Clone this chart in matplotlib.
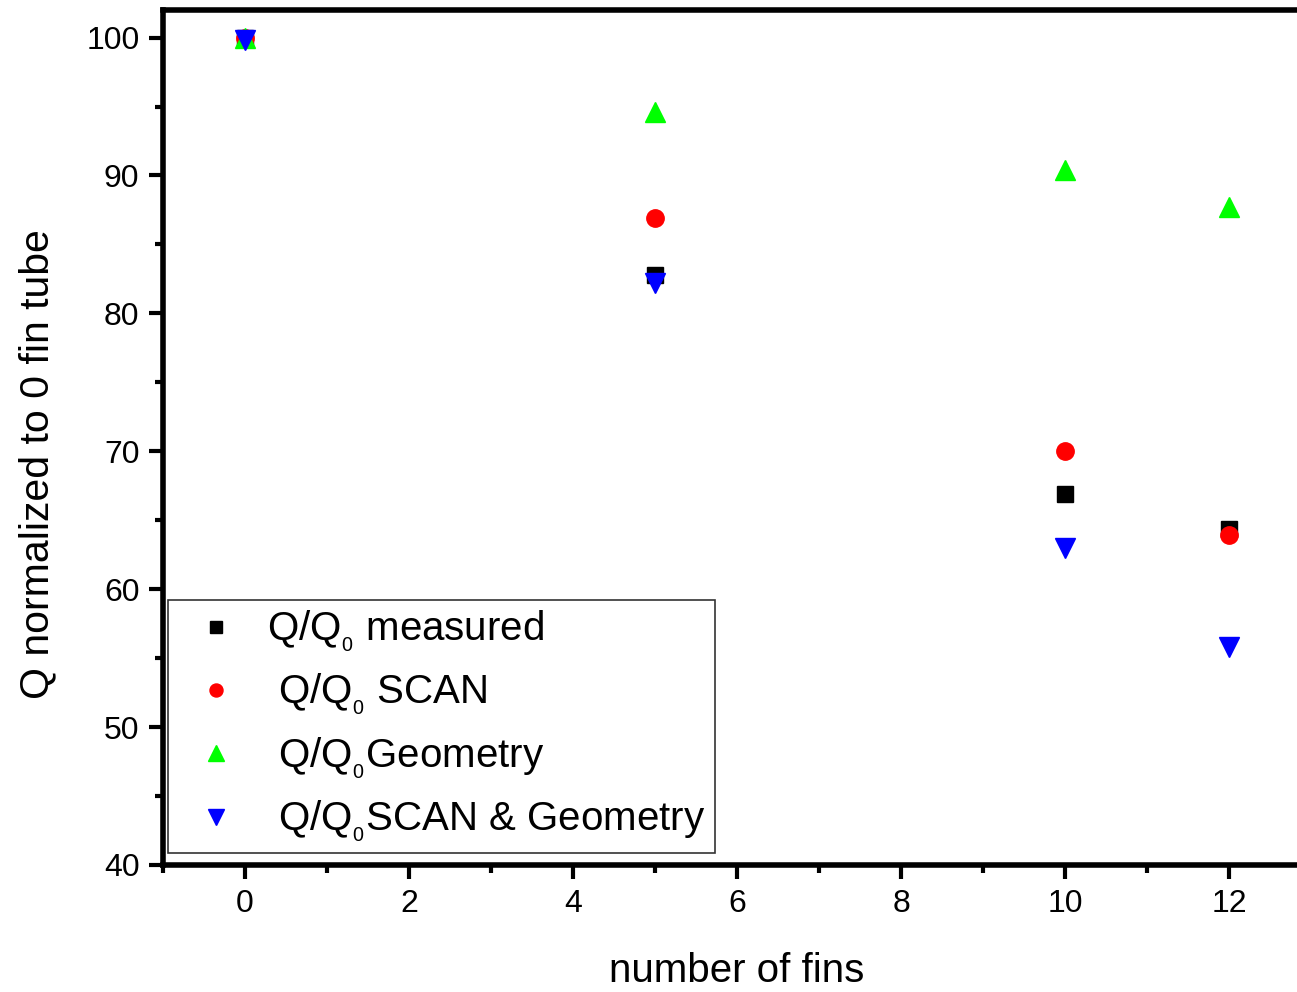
import matplotlib
matplotlib.use("Agg")
import matplotlib.pyplot as plt
from matplotlib.ticker import MultipleLocator

plt.rcParams["font.family"] = ["Liberation Sans", "DejaVu Sans"]
plt.rcParams["mathtext.fontset"] = "custom"
plt.rcParams["mathtext.rm"] = "Liberation Sans"
plt.rcParams["mathtext.it"] = "Liberation Sans"

# number of fins on the tube
fins = [0, 5, 10, 12]

# heat transfer normalized to the 0-fin tube (%)
q_measured = [100.0, 82.8, 66.9, 64.4]
q_scan = [100.0, 86.9, 70.0, 63.9]
q_geometry = [100.0, 94.6, 90.4, 87.7]
q_scan_geometry = [99.8, 82.2, 63.0, 55.8]

labels = [
    r"Q/Q$_{_0}$ measured",
    r" Q/Q$_{_0}$ SCAN",
    r" Q/Q$_{_0}$Geometry",
    r" Q/Q$_{_0}$SCAN & Geometry",
]

W, H, DPI = 1297, 992, 100
fig = plt.figure(figsize=(W / DPI, H / DPI), dpi=DPI)
# axes run past the right edge of the canvas
ax = fig.add_axes([163 / W, (H - 865) / H, (1311 - 163) / W, (865 - 10) / H])

ax.plot(fins, q_measured, ls="none", marker="s", ms=11.5, color="black",
        mec="black", label=labels[0], zorder=3)
ax.plot(fins, q_scan, ls="none", marker="o", ms=12.5, color="red",
        mec="red", label=labels[1], zorder=4)
ax.plot(fins, q_geometry, ls="none", marker="^", ms=15, color="#00ff00",
        mec="#00ff00", label=labels[2], zorder=5)
ax.plot(fins, q_scan_geometry, ls="none", marker="v", ms=15, color="blue",
        mec="blue", label=labels[3], zorder=6)

ax.set_xlim(-1, 13)
ax.set_ylim(40, 102)
ax.xaxis.set_major_locator(MultipleLocator(2))
ax.xaxis.set_minor_locator(MultipleLocator(1))
ax.yaxis.set_major_locator(MultipleLocator(10))
ax.yaxis.set_minor_locator(MultipleLocator(5))

for side in ["left", "bottom", "top", "right"]:
    ax.spines[side].set_linewidth(4.0)
ax.tick_params(which="major", direction="out", length=10, width=3,
               labelsize=23, pad=7, top=False, right=False)
ax.tick_params(which="minor", direction="out", length=6, width=3,
               top=False, right=False)

ax.set_xlabel("number of fins", fontsize=29, labelpad=24)
ax.set_ylabel("Q normalized to 0 fin tube", fontsize=29.5)
ax.yaxis.set_label_coords(-(163 - 37) / (1311 - 163), (865 - 464) / (865 - 10))
ax.yaxis.label.set_verticalalignment("center")

leg = ax.legend(loc="lower left", bbox_to_anchor=(168 / W, (H - 853) / H),
                bbox_transform=fig.transFigure, fontsize=29, frameon=True,
                fancybox=False, edgecolor="black", borderaxespad=0,
                handlelength=1.95, handletextpad=0.3, labelspacing=0.45,
                borderpad=0.22, markerscale=0.75)
leg.get_frame().set_linewidth(1.2)

fig.savefig("out.png", dpi=DPI)
